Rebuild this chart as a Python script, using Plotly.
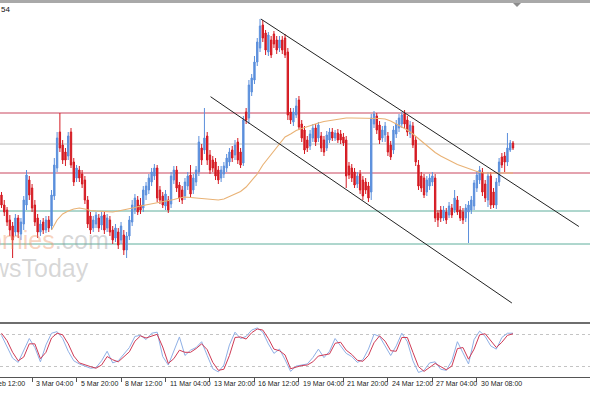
import plotly.graph_objects as go

# ---------------- data ----------------
bar_open = [
    105, 95, 90, 80, 74, 68, 82, 66, 76, 95,
    120, 112, 95, 82, 68, 78, 70, 80, 74, 104,
    132, 168, 155, 148, 144, 168, 138, 122, 130, 126,
    120, 100, 84, 72, 76, 82, 75, 85, 72, 80,
    70, 62, 68, 60, 65, 50, 64, 78, 90, 100,
    95, 92, 105, 110, 118, 124, 132, 110, 104, 94,
    100, 96, 120, 130, 115, 110, 104, 114, 125, 110,
    118, 128, 152, 150, 164, 145, 140, 138, 130, 122,
    126, 132, 138, 150, 145, 158, 148, 137, 188, 182,
    208, 220, 238, 252, 275, 267, 248, 260, 266, 260,
    252, 260, 262, 248, 188, 178, 185, 200, 176, 170,
    160, 154, 162, 172, 162, 164, 160, 152, 160, 168,
    162, 167, 166, 163, 160, 134, 132, 128, 116, 126,
    120, 118, 114, 108, 176, 184, 175, 162, 165, 164,
    155, 150, 166, 172, 176, 186, 180, 166, 174, 160,
    135, 124, 122, 108, 114, 118, 122, 87, 90, 82,
    88, 85, 92, 90, 100, 90, 88, 82, 88, 90,
    94, 112, 120, 128, 116, 100, 124, 108, 95, 118,
    143, 144, 138, 150, 157,
]
bar_close = [
    95, 88, 78, 70, 60, 82, 68, 78, 100, 125,
    105, 92, 78, 68, 76, 70, 80, 72, 105, 135,
    162, 152, 140, 140, 164, 135, 118, 132, 122, 116,
    100, 76, 70, 80, 85, 72, 84, 70, 82, 68,
    60, 72, 55, 74, 50, 64, 80, 95, 102, 88,
    90, 110, 114, 122, 128, 132, 102, 100, 95, 106,
    90, 124, 130, 112, 102, 100, 118, 124, 106, 122,
    130, 158, 140, 162, 140, 130, 132, 124, 120, 130,
    134, 142, 148, 142, 155, 140, 135, 180, 180, 215,
    222, 238, 258, 274, 262, 250, 265, 245, 256, 250,
    260, 250, 245, 185, 180, 188, 194, 173, 162, 150,
    152, 166, 172, 158, 175, 152, 148, 165, 168, 162,
    167, 160, 160, 157, 124, 125, 122, 115, 124, 110,
    104, 110, 102, 182, 186, 170, 160, 170, 174, 148,
    143, 170, 176, 182, 185, 176, 168, 175, 155, 138,
    114, 112, 105, 120, 122, 124, 82, 80, 82, 90,
    80, 94, 85, 102, 88, 82, 80, 92, 95, 100,
    117, 125, 130, 108, 102, 124, 95, 95, 118, 138,
    135, 138, 152, 157, 152,
]
bar_high = [
    108, 100, 93, 85, 78, 86, 85, 82, 104, 130,
    124, 116, 100, 86, 80, 82, 84, 84, 110, 142,
    168, 187, 160, 152, 168, 172, 142, 135, 134, 130,
    124, 104, 88, 84, 88, 86, 88, 88, 86, 84,
    74, 76, 72, 78, 70, 68, 84, 100, 106, 104,
    102, 114, 118, 126, 132, 136, 135, 114, 108, 110,
    104, 128, 134, 134, 118, 114, 122, 128, 135, 126,
    134, 164, 156, 192, 168, 150, 144, 142, 134, 134,
    138, 146, 152, 154, 160, 162, 152, 184, 192, 220,
    226, 244, 262, 281, 280, 270, 268, 264, 269, 264,
    264, 264, 266, 252, 192, 192, 202, 204, 180, 174,
    164, 170, 176, 176, 178, 168, 164, 169, 172, 172,
    170, 171, 170, 167, 164, 138, 136, 132, 128, 130,
    124, 122, 118, 186, 189, 187, 179, 174, 178, 168,
    159, 174, 180, 186, 188, 190, 184, 179, 178, 164,
    140, 128, 126, 124, 126, 128, 126, 90, 94, 94,
    92, 98, 96, 110, 104, 94, 92, 96, 99, 104,
    120, 129, 134, 132, 120, 128, 128, 112, 122, 142,
    147, 148, 167, 160, 159,
]
bar_low = [
    92, 84, 74, 64, 42, 64, 62, 60, 70, 90,
    100, 88, 74, 62, 64, 66, 67, 68, 70, 100,
    128, 148, 136, 134, 140, 132, 114, 118, 118, 112,
    96, 72, 66, 68, 72, 68, 70, 66, 68, 64,
    56, 58, 51, 56, 45, 42, 60, 74, 86, 85,
    86, 88, 100, 106, 114, 120, 98, 96, 92, 90,
    87, 92, 116, 108, 98, 96, 100, 110, 102, 106,
    114, 124, 135, 146, 135, 126, 128, 120, 116, 118,
    122, 128, 134, 138, 140, 136, 132, 134, 176, 176,
    204, 216, 234, 248, 258, 245, 244, 242, 252, 246,
    248, 246, 242, 180, 176, 174, 182, 170, 158, 146,
    148, 150, 158, 154, 158, 148, 144, 149, 157, 159,
    159, 157, 156, 154, 112, 121, 118, 112, 112, 106,
    100, 106, 98, 100, 172, 166, 156, 158, 158, 144,
    140, 146, 162, 168, 172, 172, 164, 162, 152, 134,
    110, 108, 102, 104, 110, 114, 78, 73, 78, 79,
    76, 82, 82, 87, 85, 79, 76, 78, 57, 86,
    90, 108, 116, 104, 98, 93, 91, 92, 91, 114,
    132, 128, 134, 148, 150,
]

# moving average, sampled every 2 bars
ma_values = [
    None, None, None, None, None, None, None, None, None, 70,
    80, 86, 89, 91, 92, 91, 89.5, 89, 88.5, 88,
    88, 89, 90, 91, 92.5, 94, 95, 96, 97.5, 98.5,
    99.5, 100.5, 102, 103, 102.5, 102, 102, 101, 100.5, 100,
    101, 103.5, 106, 108.5, 113, 119, 126, 135, 142, 150,
    157, 163, 166, 169.5, 171.5, 173.5, 175.5, 177, 178.5, 179.5,
    180.5, 181.5, 182, 182, 182, 182, 182, 182, 181.5, 181,
    179, 176, 173, 170, 166, 161.5, 157, 152, 147.5, 144,
    141, 138, 135.5, 133.5, 131.5, 129, 127.5, 127, 127, 127,
    127, 127, 127,
]

# stochastic oscillator, sampled every 2 bars
stoch_main = [
    78, 55, 35, 27, 50, 72, 55, 28, 60, 82,
    85, 72, 48, 30, 24, 20, 16, 17, 30, 48,
    26, 30, 42, 55, 76, 78, 70, 82, 84, 38,
    22, 48, 75, 40, 50, 55, 66, 40, 15, 9,
    22, 60, 84, 72, 76, 88, 92, 84, 62, 44,
    52, 32, 10, 20, 22, 24, 36, 52, 36, 48,
    72, 58, 44, 38, 27, 32, 52, 80, 76, 58,
    40, 58, 82, 66, 30, 8, 12, 26, 28, 14,
    12, 30, 66, 45, 24, 70, 86, 76, 58, 52,
    74, 82, 82,
]
stoch_signal = [
    82, 68, 46, 30, 37, 62, 62, 34, 46, 73,
    82, 79, 62, 39, 26, 22, 19, 16, 22, 38,
    32, 28, 38, 47, 67, 77, 73, 77, 80, 56,
    25, 34, 50, 46, 46, 53, 62, 51, 27, 12,
    14, 40, 74, 75, 71, 83, 90, 88, 72, 52,
    49, 41, 15, 18, 21, 22, 28, 39, 41, 43,
    63, 65, 50, 42, 31, 29, 40, 64, 77, 67,
    49, 48, 74, 74, 46, 19, 10, 18, 25, 19,
    13, 20, 53, 55, 33, 52, 79, 81, 67, 55,
    65, 78, 81,
]
stoch_levels = [20, 80]

# horizontal levels
red_levels = [187, 127]
gray_levels = [156]
teal_levels = [89, 56]

# channel trendlines (bar index, price)
upper_channel_x = [93.3, 207.7]
upper_channel_y = [281, 73.5]
lower_channel_x = [75.2, 183.6]
lower_channel_y = [203.3, -3]

# time axis labels
tick_labels = ["29 Feb 12:00", "3 Mar 04:00", "5 Mar 20:00", "8 Mar 12:00",
               "11 Mar 04:00", "13 Mar 20:00", "16 Mar 12:00", "19 Mar 04:00",
               "21 Mar 20:00", "24 Mar 12:00", "27 Mar 04:00", "30 Mar 08:00"]
tick_bars = [-5, 11, 27, 43, 59, 75, 91, 107, 123, 139, 155, 171]

# ---------------- figure ----------------
W, H = 590, 393
BLUE = "#5b8fdc"
RED = "#d51a22"

bars = list(range(len(bar_open)))
sample_bars = list(range(0, len(bar_open), 2))

fig = go.Figure()

fig.add_trace(go.Candlestick(
    x=bars, open=bar_open, high=bar_high, low=bar_low, close=bar_close,
    increasing=dict(line=dict(color=BLUE, width=1), fillcolor=BLUE),
    decreasing=dict(line=dict(color=RED, width=1), fillcolor=RED),
    whiskerwidth=0, showlegend=False, hoverinfo="skip",
    xaxis="x", yaxis="y"))

fig.add_trace(go.Scatter(x=sample_bars, y=ma_values, mode="lines",
                         line=dict(color="#e9b275", width=1.1),
                         showlegend=False, hoverinfo="skip", xaxis="x", yaxis="y"))

for cx, cy in [(upper_channel_x, upper_channel_y), (lower_channel_x, lower_channel_y)]:
    fig.add_trace(go.Scatter(x=cx, y=cy, mode="lines",
                             line=dict(color="#222222", width=1),
                             showlegend=False, hoverinfo="skip", xaxis="x", yaxis="y"))

fig.add_trace(go.Scatter(x=sample_bars, y=stoch_main, mode="lines",
                         line=dict(color="#8fb0e6", width=1),
                         showlegend=False, hoverinfo="skip", xaxis="x2", yaxis="y2"))
fig.add_trace(go.Scatter(x=sample_bars, y=stoch_signal, mode="lines",
                         line=dict(color="#cf3a55", width=1),
                         showlegend=False, hoverinfo="skip", xaxis="x2", yaxis="y2"))

for v in red_levels:
    fig.add_shape(type="line", xref="paper", x0=0, x1=1, yref="y", y0=v, y1=v,
                  line=dict(color="#c9475e", width=1), layer="below")
for v in gray_levels:
    fig.add_shape(type="line", xref="paper", x0=0, x1=1, yref="y", y0=v, y1=v,
                  line=dict(color="#b8b8b8", width=1), layer="below")
for v in teal_levels:
    fig.add_shape(type="line", xref="paper", x0=0, x1=1, yref="y", y0=v, y1=v,
                  line=dict(color="#5fae9c", width=1), layer="below")

# frame pieces
fig.add_shape(type="rect", xref="paper", yref="paper", x0=0, x1=1,
              y0=1 - 3 / H, y1=1, fillcolor="#a9a9a9", line=dict(width=0))
fig.add_shape(type="line", xref="paper", yref="paper", x0=0, x1=1,
              y0=1 - 323 / H, y1=1 - 323 / H, line=dict(color="#6e6e6e", width=2))
fig.add_shape(type="path", xref="paper", yref="paper",
              path=f"M {513/W} {1-3/H} L {521/W} {1-3/H} L {517/W} {1-7/H} Z",
              fillcolor="#8c8c8c", line=dict(width=0))

x_range = [-0.54, 211.7]

fig.update_layout(
    width=W, height=H, margin=dict(l=0, r=0, t=0, b=0),
    paper_bgcolor="white", plot_bgcolor="white",
    boxgap=0.3,
    xaxis=dict(domain=[0, 1], range=x_range, visible=False, anchor="y",
               rangeslider=dict(visible=False), fixedrange=True),
    yaxis=dict(domain=[1 - 322 / H, 1 - 3 / H], range=[-22, 297], visible=False,
               anchor="x", fixedrange=True),
    xaxis2=dict(domain=[0, 1], range=x_range, anchor="y2", matches="x",
                showline=True, linecolor="#555555", linewidth=1,
                ticks="outside", ticklen=4, tickcolor="#555555",
                tickvals=tick_bars, showticklabels=False,
                showgrid=False, zeroline=False, fixedrange=True),
    yaxis2=dict(domain=[1 - 377 / H, 1 - 323 / H], range=[-0.6, 101.3], anchor="x2",
                tickvals=stoch_levels, showticklabels=False, ticks="",
                showgrid=True, gridcolor="#c4c4c4", griddash="dot", gridwidth=1,
                zeroline=False, showline=False, fixedrange=True),
    showlegend=False,
)

label_font = dict(family="Liberation Sans, Arial, sans-serif", size=7, color="#222222")
annos = []
for lab, b in zip(tick_labels, tick_bars):
    if b < x_range[0]:
        annos.append(dict(text=lab, xref="paper", x=0, xanchor="right", xshift=27,
                          yref="paper", y=1 - 383 / H, yanchor="middle",
                          showarrow=False, font=label_font))
    else:
        annos.append(dict(text=lab, xref="x2", x=b, xanchor="left", xshift=2,
                          yref="paper", y=1 - 383 / H, yanchor="middle",
                          showarrow=False, font=label_font))

annos.append(dict(text="54", xref="paper", x=0, xanchor="left", xshift=-1,
                  yref="paper", y=1 - 9 / H, yanchor="middle", showarrow=False,
                  font=dict(family="Liberation Sans, Arial, sans-serif", size=8, color="#111111")))

wm_font = dict(family="Liberation Sans, Arial, sans-serif", size=25)
annos.append(dict(
    text='<span style="color:rgba(240,150,100,0.42)">Economies</span>'
         '<span style="color:rgba(150,150,150,0.38)">.com</span>',
    xref="paper", x=111 / W, xanchor="right", yref="paper", y=1 - 240 / H,
    yanchor="middle", showarrow=False, font=wm_font))
annos.append(dict(
    text='<span style="color:rgba(150,150,150,0.38)">NewsToday</span>',
    xref="paper", x=91 / W, xanchor="right", yref="paper", y=1 - 268 / H,
    yanchor="middle", showarrow=False, font=wm_font))

fig.update_layout(annotations=annos)

fig.write_html("out.html")
